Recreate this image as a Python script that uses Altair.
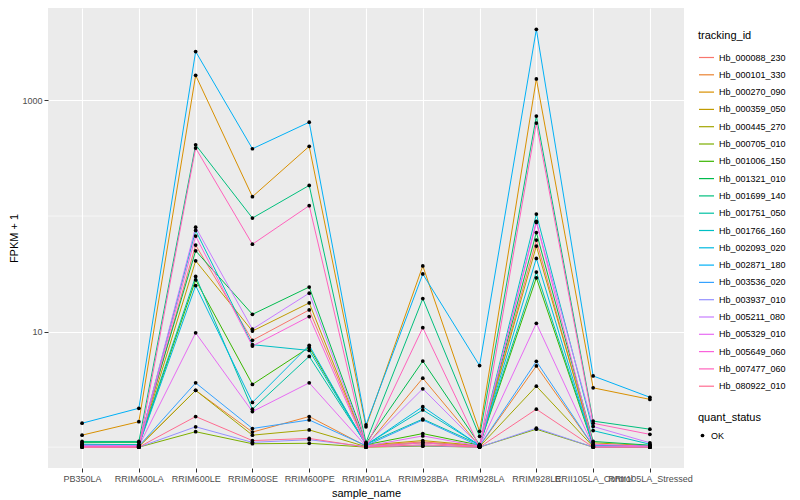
import altair as alt
import pandas as pd

samples = ["PB350LA", "RRIM600LA", "RRIM600LE", "RRIM600SE", "RRIM600PE", "RRIM901LA",
           "RRIM928BA", "RRIM928LA", "RRIM928LE", "RRII105LA_Control", "RRII105LA_Stressed"]

ids = ["Hb_000088_230", "Hb_000101_330", "Hb_000270_090", "Hb_000359_050", "Hb_000445_270",
       "Hb_000705_010", "Hb_001006_150", "Hb_001321_010", "Hb_001699_140", "Hb_001751_050",
       "Hb_001766_160", "Hb_002093_020", "Hb_002871_180", "Hb_003536_020", "Hb_003937_010",
       "Hb_005211_080", "Hb_005329_010", "Hb_005649_060", "Hb_007477_060", "Hb_080922_010"]

colors = ["#F8766D", "#EA8331", "#D89000", "#C09B00", "#A3A500", "#7CAE00", "#39B600", "#00BB4E",
          "#00BF7D", "#00C1A3", "#00BFC4", "#00BAE0", "#00B0F6", "#35A2FF", "#9590FF", "#C77CFF",
          "#E76BF3", "#FA62DB", "#FF62BC", "#FF6C91"]

# FPKM + 1 per sample (order of `samples`)
Hb_000088_230 = [1.03, 1.02, 56, 8.4, 15.4, 1.03, 1.11, 1.02, 62, 1.03, 1.02]
Hb_000101_330 = [1.02, 1.01, 3.1, 1.35, 1.84, 1.02, 3.95, 1.02, 5.04, 1.02, 1.01]
Hb_000270_090 = [1.27, 1.66, 1650, 147, 401, 1.5, 37, 1.37, 1536, 3.26, 2.59]
Hb_000359_050 = [1.04, 1.03, 41, 10.1, 17.7, 1.04, 1.14, 1.03, 55, 1.09, 1.03]
Hb_000445_270 = [1.02, 1.01, 3.1, 1.27, 1.41, 1.01, 1.09, 1.01, 3.37, 1.01, 1.0]
Hb_000705_010 = [1.01, 1.0, 1.36, 1.07, 1.08, 1.0, 1.02, 1.0, 1.43, 1.0, 1.0]
Hb_001006_150 = [1.05, 1.04, 28, 3.49, 7.3, 1.05, 1.31, 1.04, 29.2, 1.03, 1.02]
Hb_001321_010 = [1.1, 1.1, 50, 14.1, 24.3, 1.08, 5.56, 1.05, 72, 1.12, 1.04]
Hb_001699_140 = [1.12, 1.12, 413, 96, 184, 1.1, 19.3, 1.24, 733, 1.68, 1.43]
Hb_001751_050 = [1.06, 1.05, 30, 2.13, 6.1, 1.06, 1.75, 1.05, 32.7, 1.04, 1.02]
Hb_001766_160 = [1.05, 1.04, 75, 7.7, 6.87, 1.05, 2.1, 1.04, 104, 1.39, 1.06]
Hb_002093_020 = [1.04, 1.03, 25, 2.44, 7.6, 1.04, 2.24, 1.03, 43, 1.03, 1.02]
Hb_002871_180 = [1.61, 2.17, 2650, 382, 648, 1.56, 31.5, 5.08, 4125, 4.13, 2.70]
Hb_003536_020 = [1.03, 1.02, 3.6, 1.45, 1.72, 1.03, 1.72, 1.02, 5.53, 1.02, 1.01]
Hb_003937_010 = [1.01, 1.0, 1.5, 1.10, 1.16, 1.01, 1.03, 1.0, 1.46, 1.0, 1.0]
Hb_005211_080 = [1.04, 1.03, 80, 10.5, 21.5, 1.04, 3.2, 1.03, 88, 1.51, 1.09]
Hb_005329_010 = [1.02, 1.02, 9.75, 2.03, 3.6, 1.02, 1.25, 1.02, 11.8, 1.02, 1.01]
Hb_005649_060 = [1.01, 1.01, 67, 7.5, 13.5, 1.01, 1.09, 1.01, 90, 1.06, 1.02]
Hb_007477_060 = [1.0, 1.0, 387, 57, 123, 1.0, 10.8, 1.0, 638, 1.61, 1.29]
Hb_080922_010 = [1.0, 1.0, 1.84, 1.14, 1.19, 1.0, 1.05, 1.0, 2.13, 1.0, 1.0]

series = [Hb_000088_230, Hb_000101_330, Hb_000270_090, Hb_000359_050, Hb_000445_270,
          Hb_000705_010, Hb_001006_150, Hb_001321_010, Hb_001699_140, Hb_001751_050,
          Hb_001766_160, Hb_002093_020, Hb_002871_180, Hb_003536_020, Hb_003937_010,
          Hb_005211_080, Hb_005329_010, Hb_005649_060, Hb_007477_060, Hb_080922_010]

minor_breaks = [1, 100]

rows = []
for tid, vals in zip(ids, series):
    for s, v in zip(samples, vals):
        rows.append({"sample_name": s, "tracking_id": tid, "fpkm": v, "quant_status": "OK"})
df = pd.DataFrame(rows)
minor_df = pd.DataFrame({"fpkm": minor_breaks})

FONT = "Liberation Sans"
yscale = alt.Scale(type="log", domain=[0.66, 6310], nice=False)
xenc = alt.X("sample_name:N", sort=samples, scale=alt.Scale(type="point", padding=0.6),
             axis=alt.Axis(title="sample_name", labelAngle=0, labelOverlap=False, labelBound=False))
yenc = alt.Y("fpkm:Q", scale=yscale,
             axis=alt.Axis(title="FPKM + 1", values=[10, 1000], format="d", titlePadding=2))

minor = alt.Chart(minor_df).mark_rule(color="white", strokeWidth=0.6).encode(
    y=alt.Y("fpkm:Q", scale=yscale))

lines = alt.Chart(df).mark_line(strokeWidth=1).encode(
    x=xenc, y=yenc,
    color=alt.Color("tracking_id:N", scale=alt.Scale(domain=ids, range=colors),
                    legend=alt.Legend(title="tracking_id", orient="none", legendX=650, legendY=22,
                                      symbolType="stroke", symbolStrokeWidth=1.2, symbolSize=225,
                                      rowPadding=3.3)),
    detail="tracking_id:N")

points = alt.Chart(df).mark_point(filled=True, size=14, color="black", opacity=1).encode(
    x=xenc, y=yenc,
    shape=alt.Shape("quant_status:N", scale=alt.Scale(range=["circle"]),
                    legend=alt.Legend(title="quant_status", orient="none", legendX=650, legendY=404,
                                      symbolFillColor="black", symbolStrokeColor="black",
                                      symbolSize=14)))

chart = alt.layer(minor, lines, points).properties(
    width=636, height=460, padding={"left": 0, "top": 0, "right": 5, "bottom": 5}
).configure_view(fill="#EBEBEB", stroke=None).configure_axis(
    grid=True, gridColor="white", gridWidth=1.1, domain=False,
    tickColor="#333333", tickSize=4, tickWidth=1,
    labelFont=FONT, labelFontSize=9, labelColor="#4D4D4D", labelPadding=2,
    titleFont=FONT, titleFontSize=11, titleFontWeight="normal", titleColor="black", titlePadding=4
).configure_legend(
    titleFont=FONT, titleFontSize=11, titleFontWeight="normal", titleColor="black",
    labelFont=FONT, labelFontSize=9, labelColor="black", titlePadding=8
)

chart.save("out.html", embed_options={"renderer": "svg", "actions": False})
